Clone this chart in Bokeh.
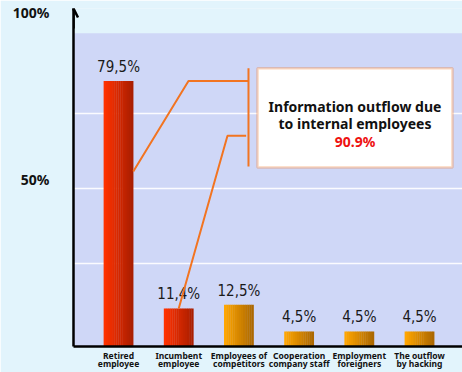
from bokeh.plotting import figure
from bokeh.models import FixedTicker, Range1d, Arrow, OpenHead, BoxAnnotation, Label
from bokeh.core.properties import value
from bokeh.embed import file_html
from bokeh.resources import INLINE

# ---- data ----
categories = ["Retired\nemployee", "Incumbent\nemployee", "Employees of\ncompetitors",
              "Cooperation\ncompany staff", "Employment\nforeigners", "The outflow\nby hacking"]
values = [79.5, 11.4, 12.5, 4.5, 4.5, 4.5]
groups = ["internal", "internal", "other", "other", "other", "other"]
y_tick_values = [50, 100]
y_tick_labels = ["50%", "100%"]
callout_lines = ["Information outflow due", "to internal employees"]
callout_total = "90.9%"

# ---- styling ----
BG = "#e2f4fc"
PANEL = "#cfd7f7"
ORANGE_LINE = "#f27421"
grad = {"internal": ((255, 50, 0), (170, 30, 0)),
        "other": ((255, 166, 0), (172, 104, 0))}

x0, x1 = -0.748, 5.714
y0, y1 = 0, 101.19

p = figure(width=462, height=372, output_backend="svg", toolbar_location=None,
           x_range=Range1d(x0, x1), y_range=Range1d(y0, y1),
           min_border_left=73, min_border_right=0, min_border_top=8, min_border_bottom=0)
p.background_fill_color = BG
p.border_fill_color = BG
p.outline_line_color = None

# lavender panel
p.quad(left=[x0], right=[x1], bottom=[0], top=[93.75], fill_color=PANEL, line_color=None, level="image")

# grid
p.xgrid.grid_line_color = None
p.ygrid.ticker = FixedTicker(ticks=[24.7, 47.3, 69.9])
p.ygrid.grid_line_color = "white"
p.ygrid.grid_line_width = 1.5
p.ygrid.grid_line_alpha = 0.9

# bars as gradient strips
bw = 0.49
N = 14
sx, st, sc = [], [], []
for i, (v, g) in enumerate(zip(values, groups)):
    c0, c1 = grad[g]
    for k in range(N):
        t = k / (N - 1)
        col = tuple(int(round(c0[j] + (c1[j] - c0[j]) * t)) for j in range(3))
        sx.append(i - bw / 2 + (k + 0.5) * bw / N)
        st.append(v)
        sc.append("#%02x%02x%02x" % col)
p.vbar(x=sx, top=st, bottom=0, width=bw / N * 1.15, fill_color=sc, line_color=None)

# value labels
xs = list(range(len(values)))
lbls = [("%.1f" % v).replace(".", ",") + "%" for v in values]
p.text(x=xs, y=values, text=lbls, text_align="center", text_baseline="bottom", y_offset=-5,
       text_font=value("DejaVu Sans Condensed"), text_font_size="15px", text_color="#1a1a1a")

# axes
p.xaxis.ticker = FixedTicker(ticks=xs)
p.xaxis.major_label_overrides = {i: c for i, c in enumerate(categories)}
p.xaxis.major_label_text_font = "Noto Sans"
p.xaxis.major_label_text_font_style = "bold"
p.xaxis.major_label_text_font_size = "8.5px"
p.xaxis.major_label_text_line_height = 0.8
p.xaxis.major_label_text_color = "#111111"
p.xaxis.major_label_standoff = 3
p.xaxis.major_tick_line_color = None
p.xaxis.major_tick_out = 0
p.xaxis.major_tick_in = 0
p.xaxis.minor_tick_line_color = None
p.xaxis.minor_tick_out = 0
p.xaxis.axis_line_color = "black"
p.xaxis.axis_line_width = 2.5

p.yaxis.ticker = FixedTicker(ticks=y_tick_values)
p.yaxis.major_label_overrides = dict(zip(y_tick_values, y_tick_labels))
p.yaxis.major_label_text_font = "Noto Sans"
p.yaxis.major_label_text_font_style = "bold"
p.yaxis.major_label_text_font_size = "14px"
p.yaxis.major_label_text_color = "#111111"
p.yaxis.major_label_standoff = 18
p.yaxis.major_tick_line_color = None
p.yaxis.minor_tick_line_color = None
p.yaxis.axis_line_color = "black"
p.yaxis.axis_line_width = 2.5

# arrow head on y axis
p.add_layout(Arrow(end=OpenHead(size=9, line_width=2.5, line_color="black"),
                   x_start=x0, y_start=y1 - 6, x_end=x0, y_end=y1,
                   line_color="black", line_width=2.5))

# connector lines and bracket
p.line(x=[bw / 2, 1.162, 2.159], y=[52.4, values[0], values[0]], line_color=ORANGE_LINE, line_width=2)
p.line(x=[1, 1.81, 2.12], y=[values[1], 63.1, 63.1], line_color=ORANGE_LINE, line_width=2)
p.line(x=[2.159, 2.159], y=[53.9, 83.3], line_color=ORANGE_LINE, line_width=2)

# callout box
p.add_layout(BoxAnnotation(left=2.308, right=5.548, bottom=53.57, top=83.33,
                           fill_color="white", fill_alpha=1, line_color=ORANGE_LINE, line_width=2.5,
                           level="annotation"))
cx = (2.308 + 5.548) / 2
for txt, yy, col in [(callout_lines[0], 72.0, "#111111"), (callout_lines[1], 66.7, "#111111"),
                     (callout_total, 61.3, "#ee1111")]:
    p.add_layout(Label(x=cx, y=yy, text=txt, text_align="center", text_baseline="alphabetic",
                       text_font="Noto Sans", text_font_style="bold", text_font_size="14px",
                       text_color=col))

open("out.html", "w").write(file_html(p, INLINE))
